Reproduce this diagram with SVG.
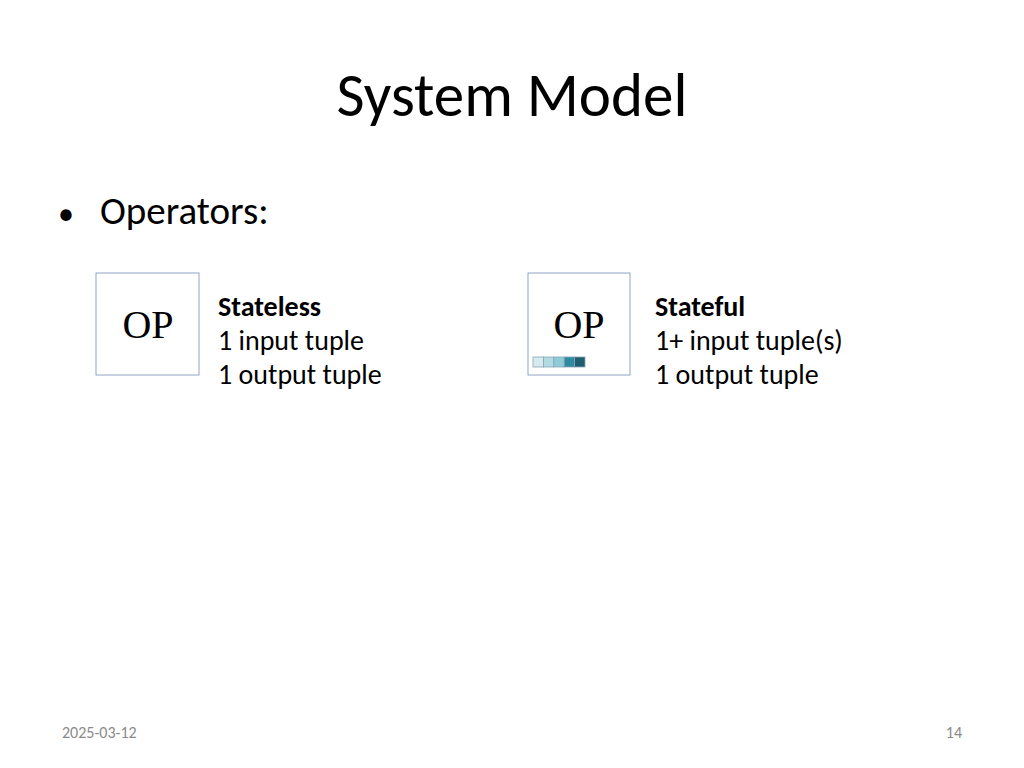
<svg xmlns="http://www.w3.org/2000/svg" width="1024" height="768" viewBox="0 0 1024 768">
<style>
.t{font-family:Calibri,Carlito,"Liberation Sans",sans-serif;fill:#000}
.op{font-family:"Liberation Serif",serif;font-size:40px;fill:#000;text-anchor:middle}
.box{fill:#fff;stroke:#8ea4c4;stroke-width:1}
.sq{stroke:#8aa4b8;stroke-width:0.8}
</style>
<rect width="1024" height="768" fill="#fff"/>
<text class="t" x="512" y="116" font-size="61" text-anchor="middle">System Model</text>
<text class="t" x="58" y="224" font-size="32">•</text>
<text class="t" x="100" y="224" font-size="39">Operators:</text>
<g id="stateless">
<rect class="box" x="96" y="273" width="103" height="102"/>
<text class="op" x="148" y="338">OP</text>
<text class="t" x="218" y="316" font-size="28" font-weight="bold">Stateless</text>
<text class="t" x="218" y="350" font-size="28">1 input tuple</text>
<text class="t" x="218" y="384" font-size="28">1 output tuple</text>
</g>
<g id="stateful">
<rect class="box" x="528" y="273" width="102" height="102"/>
<text class="op" x="579" y="338">OP</text>
<rect class="sq" x="533" y="357" width="10.4" height="10" fill="#d6eaf0"/>
<rect class="sq" x="543.4" y="357" width="10.4" height="10" fill="#b0dbe2"/>
<rect class="sq" x="553.8" y="357" width="10.4" height="10" fill="#8ecbd6"/>
<rect class="sq" x="564.2" y="357" width="10.4" height="10" fill="#2d8aa0"/>
<rect class="sq" x="574.6" y="357" width="10.4" height="10" fill="#1f5e6e"/>
<text class="t" x="655" y="316" font-size="28" font-weight="bold">Stateful</text>
<text class="t" x="655" y="350" font-size="28">1+ input tuple(s)</text>
<text class="t" x="655" y="384" font-size="28">1 output tuple</text>
</g>
<g id="connectors"/>
<text class="t" x="62" y="738" font-size="16" style="fill:#8a8a8a">2025-03-12</text>
<text class="t" x="962" y="738" font-size="16" text-anchor="end" style="fill:#8a8a8a">14</text>
</svg>
